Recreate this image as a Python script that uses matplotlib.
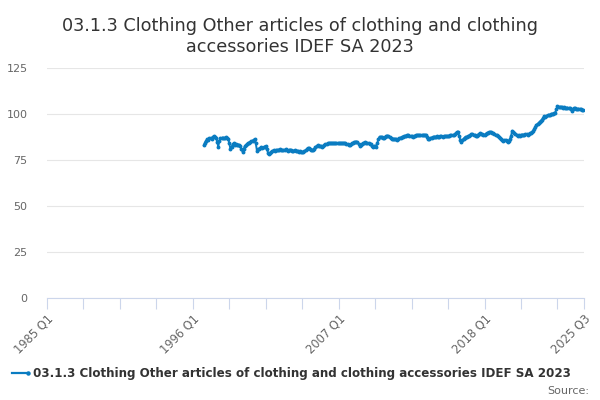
import numpy as np
import matplotlib
matplotlib.use("Agg")
import matplotlib.pyplot as plt

title = "03.1.3 Clothing Other articles of clothing and clothing\naccessories IDEF SA 2023"
series_name = "03.1.3 Clothing Other articles of clothing and clothing accessories IDEF SA 2023"

# monthly values, series starts Nov 1996
start_year = 1996
start_month = 11
values = [
    83.0, 84.5,
    85.5, 86.2, 86.0, 86.8, 87.0, 86.6, 87.5, 88.0, 87.6, 87.0, 85.0, 82.2,
    85.5, 87.0, 86.8, 87.2, 87.0, 86.8, 87.3, 87.0, 86.5, 84.0, 81.0, 82.0,
    83.5, 84.0, 83.2, 83.6, 83.0, 83.4, 83.0, 82.5, 81.0, 79.5, 81.0, 82.5,
    83.0, 83.5, 84.0, 84.5, 84.8, 85.2, 85.5, 86.0, 86.2, 84.0, 80.0, 80.8,
    81.0, 81.5, 81.8, 81.6, 82.0, 82.3, 82.5, 81.0, 79.0, 78.3, 79.0, 79.5,
    80.0, 80.2, 79.8, 80.3, 80.5, 80.2, 80.6, 80.8, 80.4, 80.5, 80.2, 80.6,
    80.8, 80.5, 80.0, 80.3, 80.6, 80.2, 79.8, 80.0, 80.4, 80.1, 79.8, 80.0,
    79.6, 79.8, 79.5, 79.2, 79.6, 80.0, 80.2, 80.8, 81.5, 81.3, 81.0, 80.6,
    80.4, 80.6, 81.2, 82.0, 82.6, 83.0, 82.8, 82.5, 82.4, 82.2, 82.6, 83.2,
    83.5, 83.8, 84.0, 84.1, 84.0, 84.3, 84.2, 84.0, 84.1, 84.3, 84.0, 84.2,
    84.0, 84.2, 84.3, 84.1, 84.0, 84.2, 84.0, 83.8, 83.5, 83.4, 83.2, 83.6,
    84.0, 84.3, 84.6, 84.8, 85.0, 84.6, 83.8, 82.8, 83.2, 83.8, 84.2, 84.4,
    84.6, 84.4, 84.2, 84.0, 83.8, 83.5, 82.8, 82.2, 82.4, 82.5, 82.3, 84.5,
    86.5, 87.7, 87.5, 87.3, 87.0, 87.2, 87.6, 88.0, 88.2, 88.0, 87.6, 87.0,
    86.5, 86.4, 86.6, 86.2, 86.3, 86.0, 86.4, 86.8, 87.2, 87.5, 87.7, 87.8,
    88.0, 88.3, 88.6, 88.4, 88.2, 88.0, 87.8, 87.7, 87.9, 88.2, 88.4, 88.5,
    88.6, 88.4, 88.5, 88.6, 88.5, 88.7, 88.6, 88.4, 87.5, 86.6, 86.2, 86.8,
    87.2, 87.5, 87.6, 87.7, 87.5, 87.8, 87.7, 87.6, 87.8, 87.9, 87.7, 87.8,
    88.0, 87.9, 88.1, 88.0, 88.2, 88.4, 88.6, 88.4, 88.5, 89.0, 89.6, 90.2,
    90.4, 88.0, 86.0, 85.0, 85.8, 86.5, 87.2, 87.7, 87.5, 87.8, 88.3, 88.6,
    89.0, 89.1, 88.8, 88.4, 88.0, 88.3, 88.8, 89.2, 89.5, 89.3, 89.0, 88.8,
    88.8, 89.2, 89.6, 89.9, 90.0, 90.2, 90.1, 89.8, 89.5, 89.0, 88.6, 88.4,
    88.0, 87.6, 87.0, 86.6, 86.0, 85.5, 85.8, 86.0, 85.2, 84.8, 85.5, 86.5,
    88.0, 90.9, 90.2, 89.5, 89.0, 88.4, 88.2, 88.4, 88.3, 88.6, 88.8, 88.7,
    88.8, 88.9, 89.0, 88.8, 89.2, 89.6, 89.8, 90.2, 91.0, 92.0, 93.0, 94.2,
    94.6, 95.2, 95.8, 96.4, 97.0, 97.8, 98.7, 98.5, 99.0, 99.3, 99.6, 99.4,
    99.8, 100.2, 100.0, 100.5, 100.8, 102.5, 104.2, 104.0, 103.8, 103.9, 103.7, 103.5,
    103.6, 103.4, 103.2, 103.5, 103.0, 103.2, 102.5, 101.8, 102.5, 103.3, 103.0, 102.8,
    102.6, 102.9, 102.8, 102.5, 102.4, 102.3,
]

# x in quarters since 1985 Q1
months = np.arange(len(values)) + (start_year - 1985) * 12 + (start_month - 1)
xq = months / 3.0

tick_pos = list(range(0, 155, 11)) + [162]
label_pos = [0, 44, 88, 132, 162]
label_txt = ["1985 Q1", "1996 Q1", "2007 Q1", "2018 Q1", "2025 Q3"]

fig = plt.figure(figsize=(6, 4), dpi=100)
ax = fig.add_axes([47 / 600, 102 / 400, 537 / 600, 230 / 400])

ax.plot(xq, values, color="#0a7cc1", lw=1.4, marker="o", ms=1.8, zorder=3)

ax.set_xlim(0, 162)
ax.set_ylim(0, 125)
ax.set_yticks([0, 25, 50, 75, 100, 125])
ax.grid(axis="y", color="#e6e6e6", lw=0.8)
ax.set_axisbelow(True)
for s in ["top", "right", "left"]:
    ax.spines[s].set_visible(False)
ax.spines["bottom"].set_color("#ccd6eb")
ax.spines["bottom"].set_zorder(4)

ax.set_xticks(tick_pos)
ax.set_xticklabels([label_txt[label_pos.index(t)] if t in label_pos else "" for t in tick_pos],
                   rotation=45, ha="right", rotation_mode="anchor")
ax.tick_params(axis="x", colors="#666666", length=8, width=0.8, color="#ccd6eb",
               labelsize=8.3, pad=2)
ax.tick_params(axis="y", colors="#666666", length=0, labelsize=8, pad=14)
for lab in ax.get_xticklabels():
    lab.set_color("#666666")

fig.text(0.5, 0.958, title, ha="center", va="top", fontsize=12.7, color="#333333",
         linespacing=1.22)

# legend
fig.lines.append(plt.Line2D([12 / 600, 28 / 600], [1 - 373 / 400] * 2, transform=fig.transFigure,
                            color="#0a7cc1", lw=1.6, marker="o", ms=2.2, markevery=[1]))
fig.text(33 / 600, 1 - 373 / 400, series_name, ha="left", va="center", fontsize=8.6,
         fontweight="bold", color="#333333")
fig.text(589 / 600, 1 - 391 / 400, "Source:", ha="right", va="center", fontsize=8,
         color="#666666")

fig.savefig("out.png", dpi=100)
